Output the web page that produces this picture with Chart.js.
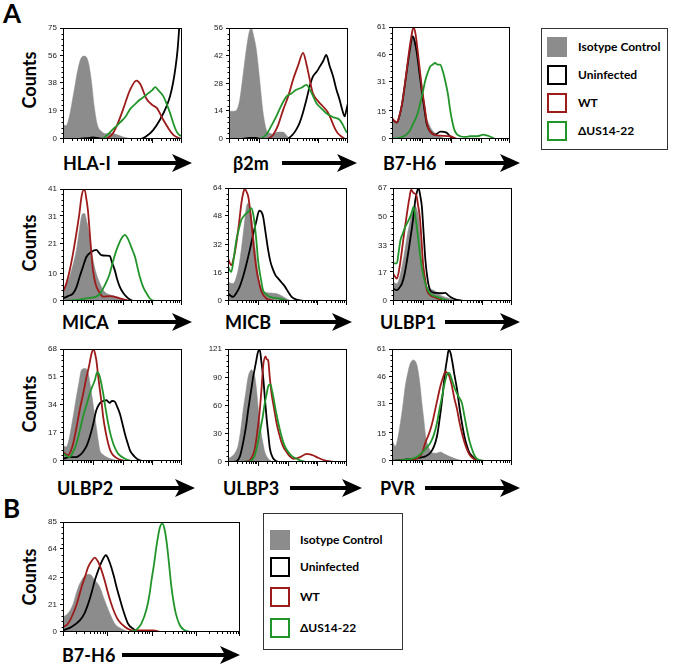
<!DOCTYPE html>
<html><head><meta charset="utf-8">
<script src="https://cdn.jsdelivr.net/npm/chart.js@4.4.1/dist/chart.umd.min.js"></script>
<style>
body{margin:0;width:675px;height:665px;background:#fff;position:relative;overflow:hidden;font-family:Lato,'Open Sans',sans-serif}
canvas{position:absolute}
.t{position:absolute;font-weight:bold;color:#000;white-space:nowrap;line-height:1;transform:translateY(-50%)}
.cnt{position:absolute;font-weight:bold;font-size:18px;line-height:1;white-space:nowrap;transform:translate(-50%,-50%) rotate(-90deg)}
.lg{position:absolute;border:1px solid #333;box-sizing:border-box;background:#fff}
.sw{position:absolute;width:20px;height:20px;box-sizing:border-box}
.lt{position:absolute;font-weight:bold;font-size:12px;line-height:1;white-space:nowrap;transform:translateY(-50%)}
svg{position:absolute}
</style></head><body>
<script>
// ---------- DATA (x = log-decade position 0..4, y = counts) ----------
const hlaIso=[[0,10],[0.1,9],[0.2,14],[0.35,30],[0.5,47],[0.62,55],[0.73,56],[0.85,52],[0.95,40],[1.05,22],[1.15,10],[1.3,5],[1.45,3.5],[1.6,4],[1.8,3],[2.0,1.5],[2.2,0.5],[2.4,0]];
const hlaWt=[[1.45,0],[1.65,3],[1.8,8.5],[2.02,20],[2.25,33],[2.47,39.5],[2.6,37],[2.81,27],[3.0,23],[3.15,21],[3.37,13],[3.55,7],[3.7,3],[3.85,1],[4,0]];
const hlaDel=[[1.3,0],[1.35,0.5],[1.5,3],[1.7,7],[1.91,11],[2.1,15],[2.25,20],[2.45,24],[2.58,26.5],[2.75,29],[2.87,31],[3.0,33],[3.1,35],[3.2,33],[3.37,29],[3.5,23],[3.6,17.5],[3.72,10],[3.82,5],[3.92,2.5],[4,2]];
const hlaUn=[[0.4,0],[0.8,0.5],[1.0,1],[1.2,0.5],[1.4,0],[2.6,0],[2.81,2],[3.03,6],[3.26,13],[3.48,22],[3.6,29],[3.7,38],[3.78,48],[3.85,60],[3.91,76],[4,100]];
const hlaTicks=[0,19,38,56,75];

const b2Iso=[[0,14],[0.15,14],[0.25,14.5],[0.36,19.7],[0.47,32],[0.58,45],[0.68,54],[0.75,56],[0.83,52],[0.92,45],[1.03,30],[1.14,14],[1.26,4.6],[1.37,3],[1.48,2.4],[1.65,3.5],[1.82,3.5],[1.95,1.5],[2.04,0]];
const b2Wt=[[1.3,0],[1.48,2],[1.65,7],[1.82,14.7],[2.0,22],[2.15,29.8],[2.32,37],[2.49,43.5],[2.6,38],[2.7,31],[2.82,23],[3.0,19],[3.16,16.4],[3.3,14],[3.4,11],[3.55,5.6],[3.65,3],[3.78,1.3],[3.9,0]];
const b2Del=[[0.9,0],[1.1,0.5],[1.26,2.4],[1.4,6],[1.59,11.4],[1.76,17],[1.93,21.4],[2.1,23],[2.26,24.8],[2.45,26],[2.6,27.3],[2.75,24],[2.94,18],[3.1,15.5],[3.27,13],[3.5,11],[3.72,9.7],[3.85,6.5],[3.94,3.8],[4,3]];
const b2Un=[[0.4,0],[0.7,0.5],[0.9,0.5],[1.1,0],[1.93,0],[2.15,2.4],[2.27,5],[2.37,8],[2.48,13],[2.6,19.7],[2.72,27],[2.82,31.5],[2.95,34],[3.05,36.5],[3.17,39.5],[3.27,42.4],[3.38,37],[3.5,31.5],[3.61,25],[3.72,19.7],[3.82,14],[3.89,11.4],[3.95,15],[4,18]];
const b2Ticks=[0,14,28,42,56];

const b7Iso=[[0,11.4],[0.1,9.5],[0.17,8.7],[0.25,12],[0.34,17.8],[0.43,27],[0.51,36],[0.6,46],[0.68,54],[0.73,56],[0.8,53],[0.85,48.6],[0.93,40],[1.01,30.5],[1.1,20],[1.18,11.4],[1.27,7.5],[1.35,5],[1.52,2.4],[1.75,0.5],[1.9,0]];
const b7Wt=[[0,11.4],[0.1,9.5],[0.17,9],[0.25,12.5],[0.34,19],[0.43,29],[0.51,39],[0.6,50],[0.68,58],[0.73,61],[0.8,57],[0.87,48],[0.94,38],[1.01,28],[1.1,18],[1.18,9],[1.35,3],[1.63,1.8],[1.97,1.5],[2.2,0]];
const b7Un=[[0,11],[0.1,9.5],[0.17,9],[0.25,12.5],[0.34,19],[0.43,29],[0.51,38],[0.6,48],[0.7,56],[0.77,53],[0.85,46],[0.93,36],[1.01,26],[1.1,16],[1.18,8],[1.3,4],[1.45,2.4],[1.65,4],[1.85,3.5],[2.0,1],[2.2,0]];
const b7Del=[[0,0],[0.4,1.5],[0.58,4],[0.73,8.7],[0.85,13],[0.96,19.6],[1.05,26],[1.13,32],[1.22,36.5],[1.3,39.6],[1.38,40.5],[1.46,41.4],[1.55,40.5],[1.63,40.5],[1.72,37],[1.8,32],[1.9,24],[1.97,16],[2.05,9],[2.14,4],[2.31,1.5],[2.5,1.2],[2.65,1.5],[2.9,1.5],[3.1,2.4],[3.2,2],[3.3,1.5],[3.5,0]];
const b7Ticks=[0,15,31,46,61];

const micaIso=[[0,4],[0.1,6],[0.22,8.9],[0.33,13],[0.45,18.7],[0.55,26],[0.62,30.9],[0.68,32],[0.73,32],[0.78,30],[0.84,27],[0.92,21],[1.01,15],[1.12,10],[1.24,6.5],[1.35,4],[1.46,2.8],[1.8,1.6],[2.13,0.4],[2.25,0]];
const micaWt=[[0,3.4],[0.1,6],[0.22,11],[0.33,17],[0.45,24.8],[0.55,32],[0.62,38],[0.68,40.6],[0.73,40.6],[0.79,37],[0.84,33],[0.92,22],[1.01,11],[1.1,6],[1.18,4],[1.35,1.6],[1.57,1.8],[1.9,1],[2.25,0]];
const micaUn=[[0,1],[0.17,1.8],[0.34,2.8],[0.45,5],[0.56,8.9],[0.67,12.5],[0.79,16.2],[0.96,18],[1.12,18.7],[1.22,17.5],[1.29,16.8],[1.45,16.6],[1.57,16.5],[1.65,14],[1.74,11.3],[1.82,8],[1.91,5.2],[2.02,3],[2.13,1.6],[2.25,0.5],[2.36,0]];
const micaDel=[[0,0],[0.4,0.3],[0.79,1],[1.12,1.6],[1.25,2.8],[1.35,4.6],[1.46,7],[1.57,10],[1.68,14.5],[1.8,18.7],[1.9,21.5],[1.97,23],[2.08,24.2],[2.17,23],[2.25,21],[2.34,18.5],[2.42,16.2],[2.5,12.5],[2.58,8.9],[2.7,5],[2.81,2.8],[2.9,1.2],[2.98,0.4],[3.1,0]];
const micaTicks=[0,10,21,31,41];

const micbIso=[[0,10.8],[0.17,9.9],[0.26,12.5],[0.34,17.5],[0.43,27],[0.51,38],[0.57,47],[0.62,53.5],[0.68,55.4],[0.74,52],[0.79,47.8],[0.87,36],[0.96,23],[1.02,15],[1.07,9.9],[1.15,7],[1.24,5.1],[1.45,4.5],[1.63,4.2],[1.8,3],[1.97,1.3],[2.14,0]];
const micbWt=[[0,24],[0.11,20.3],[0.2,25],[0.28,32.6],[0.37,44],[0.45,55.4],[0.51,61],[0.56,63.6],[0.62,62],[0.68,59.2],[0.74,52],[0.79,44],[0.87,30],[0.96,17.5],[1.05,10],[1.13,5.1],[1.3,1.3],[1.6,0]];
const micbDel=[[0,19.4],[0.11,16.5],[0.2,25],[0.28,34.5],[0.37,41],[0.45,46],[0.53,48],[0.62,49.7],[0.7,51],[0.79,52.6],[0.85,49],[0.9,43],[0.96,33],[1.01,23],[1.1,13],[1.18,6],[1.3,3.5],[1.41,2.3],[1.75,1.3],[2.0,0]];
const micbUn=[[0,4.2],[0.17,2.3],[0.28,4.5],[0.39,8],[0.5,13.5],[0.62,21],[0.74,29.5],[0.85,38],[0.95,45],[1.05,51.2],[1.12,50.5],[1.18,47.8],[1.26,39],[1.35,28.8],[1.43,22],[1.52,17.5],[1.6,14.5],[1.69,12.7],[1.8,10.5],[1.92,8],[2.03,5],[2.14,2.3],[2.3,0.8],[2.42,0.4],[2.6,0]];
const micbTicks=[0,16,32,48,64];

const ul1Iso=[[0,11.3],[0.13,10.3],[0.22,14],[0.3,20.3],[0.38,28],[0.47,38],[0.55,45],[0.64,52],[0.75,56],[0.81,54],[0.86,50],[0.92,38],[0.97,24],[1.05,14],[1.14,8.3],[1.25,7],[1.37,6.4],[1.48,5],[1.59,3.4],[1.76,2.2],[1.93,1.4],[2.26,0]];
const ul1Wt=[[0,16.3],[0.13,13.3],[0.22,20],[0.3,30],[0.38,41],[0.47,52],[0.55,61],[0.61,66],[0.69,64],[0.78,63],[0.84,57],[0.9,50],[0.96,36],[1.01,22.3],[1.08,13],[1.14,6.4],[1.25,3.5],[1.37,2.4],[1.7,0.4],[1.9,0]];
const ul1Del=[[0,22.3],[0.13,22.3],[0.19,29],[0.25,36],[0.33,40],[0.41,44],[0.5,47],[0.58,50],[0.64,53],[0.69,56],[0.75,50],[0.8,44],[0.86,35],[0.92,26],[1.0,17],[1.09,10.3],[1.17,6.5],[1.25,4.4],[1.48,2.4],[1.82,0.4],[2.0,0]];
const ul1Un=[[0,7.4],[0.13,6.4],[0.22,8],[0.3,10.3],[0.39,16],[0.47,24],[0.55,33],[0.64,44],[0.7,52],[0.75,60],[0.81,65],[0.86,67],[0.92,62],[0.97,56],[1.03,40],[1.09,24],[1.17,12],[1.25,6.4],[1.36,5],[1.48,4.8],[1.62,4.6],[1.76,4.8],[1.85,3.5],[1.93,2.4],[2.1,1],[2.26,0.4],[2.4,0]];
const ul1Ticks=[0,17,33,50,67];

const ul2Iso=[[0,9.5],[0.11,8.5],[0.2,13],[0.28,20.7],[0.37,30],[0.45,39],[0.54,48],[0.62,55.2],[0.73,56.2],[0.84,54],[0.9,48],[0.96,41],[1.04,31],[1.12,20.7],[1.18,13],[1.24,6.5],[1.35,3.8],[1.46,2.4],[1.8,0.4],[1.95,0]];
const ul2Wt=[[0,5.5],[0.17,3.4],[0.26,6],[0.34,10.5],[0.45,20],[0.56,30.8],[0.68,41],[0.79,51],[0.88,58],[0.96,65.3],[1.03,67.8],[1.08,65],[1.12,61.2],[1.18,52],[1.24,43],[1.3,35],[1.35,26.8],[1.43,18],[1.52,10.5],[1.6,6],[1.69,3.4],[1.91,0.8],[2.1,0]];
const ul2Del=[[0,4.5],[0.22,2.4],[0.34,5.5],[0.45,10.5],[0.56,18],[0.67,26.8],[0.79,34],[0.9,41],[0.98,45],[1.07,49],[1.15,54],[1.2,53],[1.24,51],[1.3,46],[1.35,41],[1.43,32],[1.52,22.7],[1.6,16],[1.69,10.5],[1.77,7],[1.85,4.5],[2.08,1.4],[2.3,0]];
const ul2Un=[[0,1.4],[0.22,2.4],[0.45,2.4],[0.56,3.5],[0.67,5.5],[0.79,9],[0.9,14.6],[1.01,22],[1.12,30.8],[1.2,34],[1.29,36],[1.37,36.5],[1.46,37],[1.52,36],[1.57,35.3],[1.65,36.5],[1.74,36],[1.82,33],[1.91,28.8],[2.0,22.5],[2.08,16.6],[2.17,11],[2.25,6.5],[2.34,4],[2.42,2.4],[2.58,0.4],[2.7,0]];
const ul2Ticks=[0,17,34,51,68];

const ul3Iso=[[0,3.5],[0.17,7],[0.26,11],[0.34,17.6],[0.43,35],[0.51,56],[0.6,75],[0.68,91.7],[0.74,97],[0.79,98.8],[0.85,96],[0.9,91.7],[0.96,77],[1.01,60],[1.07,43],[1.13,28],[1.19,18],[1.24,10.6],[1.32,5],[1.41,1.8],[1.6,0]];
const ul3Un=[[0,0],[0.28,0.7],[0.4,6],[0.51,21],[0.6,37],[0.68,56],[0.77,75],[0.85,91.7],[0.93,105],[1.01,118],[1.07,120],[1.12,108],[1.18,91.7],[1.24,68],[1.3,45.9],[1.36,28],[1.41,14],[1.5,5],[1.58,1.8],[1.7,0]];
const ul3Wt=[[0,0],[0.6,0.5],[0.73,1.8],[0.82,6],[0.9,14],[0.98,31],[1.07,56],[1.13,80],[1.18,102],[1.26,113],[1.3,110],[1.35,109],[1.4,92],[1.46,74],[1.55,57],[1.63,42],[1.72,30],[1.8,21],[1.88,15],[1.97,10.6],[2.08,6],[2.2,3.5],[2.3,4],[2.42,5.3],[2.55,7.5],[2.65,8.8],[2.76,8.2],[2.87,7],[3.0,5],[3.1,3.5],[3.25,1.8],[3.44,0.7],[3.6,0]];
const ul3Del=[[0,0],[0.6,0.3],[0.73,0.7],[0.82,2.5],[0.9,7],[0.98,17],[1.07,31.7],[1.16,47],[1.24,63.5],[1.3,73],[1.35,81],[1.43,83],[1.47,78],[1.52,70.5],[1.6,56],[1.69,42],[1.77,31],[1.86,21],[1.94,15],[2.03,10.6],[2.14,6.5],[2.25,4.2],[2.42,1.8],[2.6,0]];
const ul3Ticks=[0,30,60,90,121];

const pvrIso=[[0,11.7],[0.11,8.1],[0.2,13],[0.28,20.8],[0.36,30],[0.44,40.6],[0.52,47.5],[0.61,53.2],[0.72,55],[0.83,52.3],[0.89,47],[0.94,40.6],[1.0,31],[1.06,22.6],[1.11,15],[1.17,9.9],[1.25,6.5],[1.33,4.5],[1.47,4.2],[1.61,4.9],[1.75,3.8],[1.89,2.7],[2.17,0.9],[2.4,0]];
const pvrUn=[[0,0],[0.5,0.9],[0.72,1.2],[0.94,1.8],[1.11,2.5],[1.28,4.5],[1.4,8],[1.5,13.5],[1.58,22],[1.67,33.4],[1.72,41],[1.78,49.6],[1.84,56],[1.89,60.5],[1.95,59],[2.0,55],[2.08,47],[2.17,38.8],[2.25,29],[2.33,20.8],[2.42,13],[2.5,8.1],[2.58,4.5],[2.67,2.7],[2.83,0]];
const pvrWt=[[0,0],[0.72,0.9],[0.85,1.5],[0.94,2.7],[1.03,5.5],[1.11,9.9],[1.2,13.5],[1.28,17.1],[1.36,22],[1.44,28],[1.52,34],[1.61,40.6],[1.7,45.5],[1.78,48.7],[1.84,48],[1.89,47],[1.95,44],[2.0,40.6],[2.08,34],[2.17,28],[2.25,21],[2.33,15.3],[2.42,10],[2.5,6.3],[2.58,3.5],[2.67,1.8],[2.83,0]];
const pvrDel=[[0,0],[0.78,1.8],[0.9,3],[1.0,4.5],[1.14,7],[1.28,9.9],[1.4,14.5],[1.5,20.8],[1.58,28],[1.67,35.2],[1.75,42],[1.83,47],[1.9,48],[1.94,47],[2.02,43],[2.11,38.8],[2.22,35],[2.33,31.6],[2.42,24],[2.5,17.1],[2.58,11],[2.67,6.3],[2.75,3],[2.83,1.3],[3.05,0]];
const pvrTicks=[0,15,31,46,61];

const bIso=[[0,11.6],[0.11,14.2],[0.23,21.9],[0.3,30],[0.38,37.4],[0.49,43.3],[0.6,44.6],[0.72,40],[0.83,34.8],[0.94,24.5],[1.06,14.2],[1.17,6.4],[1.32,2.6],[1.51,0]];
const bWt=[[0,3.9],[0.11,6.4],[0.26,16.8],[0.34,25],[0.42,34.8],[0.5,43],[0.57,50.3],[0.65,55],[0.72,57.5],[0.78,55],[0.83,51.5],[0.94,40],[1.01,31],[1.09,21.9],[1.17,14.5],[1.25,9],[1.4,3.9],[1.55,1.3],[2.04,1.3],[2.2,0]];
const bUn=[[0,1.3],[0.19,3.9],[0.38,9],[0.48,14],[0.57,21.9],[0.65,31],[0.72,40],[0.8,48],[0.87,54],[0.97,59.3],[1.03,56],[1.09,50.3],[1.15,43],[1.21,34.8],[1.29,25],[1.36,16.8],[1.47,6.4],[1.58,2.6],[1.7,0]];
const bDel=[[1.5,0],[1.66,1.8],[1.77,6.4],[1.89,18],[1.95,28],[2.0,40],[2.06,53],[2.11,65.7],[2.19,81],[2.25,83.8],[2.3,78.6],[2.34,70],[2.38,58],[2.45,34.8],[2.5,23],[2.55,14.2],[2.64,5.2],[2.75,1.3],[2.9,0]];
const bTicks=[0,21,42,64,85];

const markers=['HLA-I','β2m','B7-H6','MICA','MICB','ULBP1','ULBP2','ULBP3','PVR','B7-H6'];
const legendLabels=['Isotype Control','Uninfected','WT','ΔUS14-22'];

// ---------- LAYOUT / STYLE ----------
const GRAY='#8c8c8c', RED='#9e1b1b', GREEN='#22952a', BLACK='#000';
const panels=[
 {iso:hlaIso,un:hlaUn,wt:hlaWt,del:hlaDel,yt:hlaTicks,l:63,t:28,r:182,b:139,lab:[63,163,118,192]},
 {iso:b2Iso,un:b2Un,wt:b2Wt,del:b2Del,yt:b2Ticks,l:229,t:28,r:348,b:139,lab:[233,163,282,357]},
 {iso:b7Iso,un:b7Un,wt:b7Wt,del:b7Del,yt:b7Ticks,l:392,t:27,r:510,b:139,lab:[383,163,445,520]},
 {iso:micaIso,un:micaUn,wt:micaWt,del:micaDel,yt:micaTicks,l:63,t:189,r:182,b:301,lab:[62,322,118,192]},
 {iso:micbIso,un:micbUn,wt:micbWt,del:micbDel,yt:micbTicks,l:228,t:188,r:347,b:301,lab:[225,322,280,352]},
 {iso:ul1Iso,un:ul1Un,wt:ul1Wt,del:ul1Del,yt:ul1Ticks,l:393,t:188,r:512,b:301,lab:[380,322,445,520]},
 {iso:ul2Iso,un:ul2Un,wt:ul2Wt,del:ul2Del,yt:ul2Ticks,l:63,t:349,r:182,b:461,lab:[57,488,120,195]},
 {iso:ul3Iso,un:ul3Un,wt:ul3Wt,del:ul3Del,yt:ul3Ticks,l:228,t:349,r:347,b:462,lab:[223,488,290,362]},
 {iso:pvrIso,un:pvrUn,wt:pvrWt,del:pvrDel,yt:pvrTicks,l:392,t:349,r:512,b:461,lab:[380,488,425,520]},
 {iso:bIso,un:bUn,wt:bWt,del:bDel,yt:bTicks,l:63,t:522,r:240,b:632,lab:[62,655,122,240]}
];

const framePlugin={id:'frame',afterDraw(c){
  const a=c.chartArea,ctx=c.ctx,xs=c.scales.x,ys=c.scales.y;
  ctx.save();ctx.strokeStyle='#000';ctx.lineWidth=1;
  ctx.strokeRect(Math.round(a.left)+0.5,Math.round(a.top)+0.5,Math.round(a.right-a.left)-1,Math.round(a.bottom-a.top)-1);
  ctx.beginPath();
  const by=Math.round(a.bottom);
  for(let d=0;d<=4;d++){
    const px=Math.round(xs.getPixelForValue(d))+0.5-(d==4?1:0);
    ctx.moveTo(px,by);ctx.lineTo(px,by+4);
    if(d<4)for(let m=2;m<10;m++){const q=Math.round(xs.getPixelForValue(d+Math.log10(m)))+0.5;ctx.moveTo(q,by);ctx.lineTo(q,by+2);}
  }
  const lx=Math.round(a.left);
  const tv=ys.ticks.map(t=>t.value);
  tv.forEach((v,i)=>{const py=Math.round(ys.getPixelForValue(v))+0.5-(i==tv.length-1?0:1);ctx.moveTo(lx,py);ctx.lineTo(lx-3,py);
    if(i<tv.length-1){const st=(tv[i+1]-v)/5;for(let k=1;k<5;k++){const q=Math.round(ys.getPixelForValue(v+st*k))+0.5;ctx.moveTo(lx,q);ctx.lineTo(lx-1.5,q);}}
  });
  ctx.stroke();ctx.restore();
}};

const pts=a=>a.map(([x,y])=>({x,y}));

function label(txt,x,y,size){const d=document.createElement('div');d.className='t';d.style.left=x+'px';d.style.top=y+'px';d.style.fontSize=size+'px';d.textContent=txt;document.body.appendChild(d);}
function arrow(x1,x2,y){const w=x2-x1;const s=document.createElementNS('http://www.w3.org/2000/svg','svg');
  s.setAttribute('width',w);s.setAttribute('height',20);s.style.left=x1+'px';s.style.top=(y-10)+'px';
  s.innerHTML=`<rect x="0" y="8" width="${w-14}" height="4" fill="#000"/><polygon points="${w-20},1 ${w},10 ${w-20},19 ${w-15},10" fill="#000"/>`;
  document.body.appendChild(s);}

panels.forEach((p,i)=>{
  const cv=document.createElement('canvas');
  const W=p.r-p.l+24,H=p.b-p.t+12;
  cv.width=W;cv.height=H;cv.style.left=(p.l-22)+'px';cv.style.top=(p.t-6)+'px';
  document.body.appendChild(cv);
  const line=(d,col,o)=>({data:pts(d),borderColor:col,borderWidth:1.8,fill:false,order:o,pointRadius:0,cubicInterpolationMode:'monotone'});
  new Chart(cv,{type:'line',
    data:{datasets:[
      {data:pts(p.iso),fill:'origin',backgroundColor:GRAY,borderColor:GRAY,borderWidth:0.5,order:9,pointRadius:0,cubicInterpolationMode:'monotone'},
      line(p.un,BLACK,3),line(p.wt,RED,2),line(p.del,GREEN,1)]},
    options:{responsive:false,animation:false,devicePixelRatio:1,
      layout:{padding:{left:0,top:6,right:2,bottom:6}},
      plugins:{legend:{display:false},tooltip:{enabled:false}},
      scales:{
        x:{type:'linear',min:0,max:4,display:false},
        y:{min:0,max:p.yt[p.yt.length-1],grid:{display:false,drawTicks:false},border:{display:false},
           ticks:{font:{size:8,family:'Liberation Sans'},color:'#222',padding:6,autoSkip:false},
           afterBuildTicks:s=>{s.ticks=p.yt.map(v=>({value:v}));},
           afterFit:s=>{s.width=22;s.paddingTop=0;s.paddingBottom=0;}}
      }},
    plugins:[framePlugin]});
  label(markers[i],p.lab[0],p.lab[1],18);
  arrow(p.lab[2],p.lab[3],p.lab[1]);
});

// Counts labels
[80,243,404,577].forEach(cy=>{const d=document.createElement('div');d.className='cnt';d.style.left='28.5px';d.style.top=cy+'px';d.textContent='Counts';document.body.appendChild(d);});
// Panel letters
label('A',3,13,26);label('B',3,508,26);

// Legends
function legend(x,y,w,h,sx,tx,rows){
  const box=document.createElement('div');box.className='lg';
  Object.assign(box.style,{left:x+'px',top:y+'px',width:w+'px',height:h+'px'});
  const styles=[{background:GRAY},{border:'2.5px solid '+BLACK},{border:'2.5px solid '+RED},{border:'2.5px solid '+GREEN}];
  rows.forEach((cy,i)=>{
    const s=document.createElement('div');s.className='sw';Object.assign(s.style,styles[i]);s.style.left=sx+'px';s.style.top=(cy-10)+'px';box.appendChild(s);
    const t=document.createElement('div');t.className='lt';t.style.left=tx+'px';t.style.top=cy+'px';t.textContent=legendLabels[i];box.appendChild(t);
  });
  document.body.appendChild(box);
}
legend(541,28,127,122,5,36,[18,46,74,102]);
legend(263,513,140,137,6,36,[26,53,83,114]);
</script>
</body></html>
